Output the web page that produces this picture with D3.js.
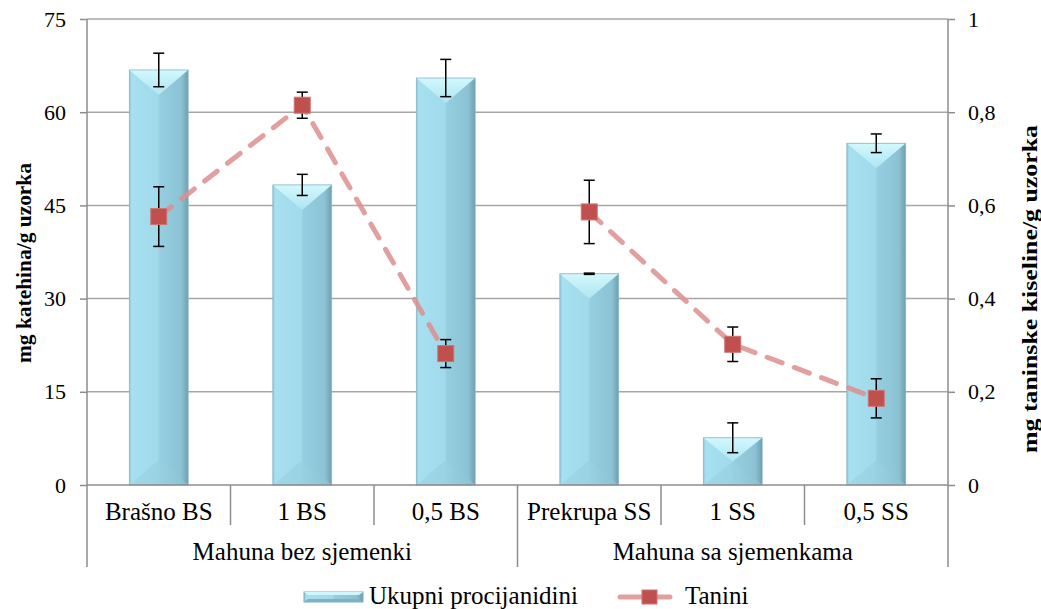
<!DOCTYPE html>
<html>
<head>
<meta charset="utf-8">
<script src="https://cdn.jsdelivr.net/npm/d3@7"></script>
<style>
  html, body { margin: 0; padding: 0; background: #fff; }
  svg { display: block; }
</style>
</head>
<body>
<svg id="chart" width="1041" height="609"></svg>
<script>
// ---- data ----
const categories = ["Brašno BS", "1 BS", "0,5 BS", "Prekrupa SS", "1 SS", "0,5 SS"];
const groups = ["Mahuna bez sjemenki", "Mahuna sa sjemenkama"];
const groupOf = [0, 0, 0, 1, 1, 1];
const procijanidini = [66.8, 48.3, 65.5, 34.0, 7.6, 55.0];
const procijanidiniErr = [2.7, 1.7, 3.0, 0.1, 2.4, 1.5];
const tanini = [0.576, 0.815, 0.282, 0.586, 0.302, 0.186];
const taniniErr = [0.064, 0.028, 0.030, 0.068, 0.037, 0.042];
const leftTicks = [0, 15, 30, 45, 60, 75];
const rightTicks = [0, 0.2, 0.4, 0.6, 0.8, 1];
const rightTickLabels = ["0", "0,2", "0,4", "0,6", "0,8", "1"];
const seriesNames = ["Ukupni procijanidini", "Tanini"];
const leftTitle = "mg katehina/g uzorka";
const rightTitle = "mg taninske kiseline/g uzorka";

// ---- layout ----
const FONT = "'Liberation Serif', 'Times New Roman', 'DejaVu Serif', serif";
const L = 87, R = 948, T = 19, B = 485;
const svg = d3.select("#chart");
const defs = svg.append("defs");

const x = d3.scaleBand().domain(categories).range([L, R]).paddingInner(0.59).paddingOuter(0.295);
const yL = d3.scaleLinear().domain([0, 75]).range([B, T]);
const yR = d3.scaleLinear().domain([0, 1]).range([B, T]);

function txt(sel, size, weight) {
  return sel.style("font-family", FONT).style("font-size", size + "px")
    .style("font-weight", weight || "normal").style("fill", "#000");
}

// gradients
const gBody = defs.append("linearGradient").attr("id", "gBody").attr("x1", 0).attr("x2", 1).attr("y1", 0).attr("y2", 0);
[["0%", "#8fc6d6"], ["4%", "#a7e0f0"], ["48%", "#a0daeb"], ["52%", "#94cee0"], ["88%", "#8cc3d4"], ["100%", "#6f9fae"]]
  .forEach(s => gBody.append("stop").attr("offset", s[0]).attr("stop-color", s[1]));
const gTop = defs.append("linearGradient").attr("id", "gTop").attr("x1", 0).attr("x2", 0).attr("y1", 0).attr("y2", 1);
[["0%", "#d2f8fd"], ["100%", "#aee5f2"]].forEach(s => gTop.append("stop").attr("offset", s[0]).attr("stop-color", s[1]));
const gBot = defs.append("linearGradient").attr("id", "gBot").attr("x1", 0).attr("x2", 1).attr("y1", 0).attr("y2", 0);
[["0%", "#9dd6e6"], ["50%", "#98d1e2"], ["100%", "#8cc2d2"]].forEach(s => gBot.append("stop").attr("offset", s[0]).attr("stop-color", s[1]));

// gridlines
svg.append("g").selectAll("line").data(leftTicks.filter(d => d > 0)).join("line")
  .attr("x1", L).attr("x2", R).attr("y1", d => yL(d)).attr("y2", d => yL(d))
  .attr("stroke", "#a6a6a6").attr("stroke-width", 1.5);

// bars
function bevelBar(g, x0, w, top, bottom) {
  const h = bottom - top;
  const d = Math.min(w / 2 * 0.85, h / 2);
  const cx = x0 + w / 2;
  g.append("rect").attr("x", x0).attr("y", top).attr("width", w).attr("height", h).attr("fill", "url(#gBody)");
  g.append("polygon").attr("points", `${x0},${bottom} ${x0 + w},${bottom} ${cx},${bottom - d}`)
    .attr("fill", "url(#gBot)").attr("opacity", 0.8);
  g.append("polygon").attr("points", `${x0},${top} ${x0 + w},${top} ${cx},${top + d}`).attr("fill", "url(#gTop)");
  g.append("rect").attr("x", x0).attr("y", top).attr("width", w).attr("height", h)
    .attr("fill", "none").attr("stroke", "#86b7c6").attr("stroke-width", 0.8);
}
const barsG = svg.append("g");
categories.forEach((c, i) => {
  bevelBar(barsG, x(c), x.bandwidth(), yL(procijanidini[i]), yL(0));
});

// bar error bars
const errG = svg.append("g").attr("stroke", "#000").attr("stroke-width", 1.5);
function errBar(g, cx, yTop, yBot) {
  g.append("line").attr("x1", cx).attr("x2", cx).attr("y1", yTop).attr("y2", yBot);
  g.append("line").attr("x1", cx - 5.5).attr("x2", cx + 5.5).attr("y1", yTop).attr("y2", yTop);
  g.append("line").attr("x1", cx - 5.5).attr("x2", cx + 5.5).attr("y1", yBot).attr("y2", yBot);
}
categories.forEach((c, i) => {
  const cx = x(c) + x.bandwidth() / 2;
  errBar(errG, cx, yL(procijanidini[i] + procijanidiniErr[i]), yL(procijanidini[i] - procijanidiniErr[i]));
});

// axes
const axisColor = "#8c8c8c";
const axL = svg.append("g").attr("transform", `translate(${L},0)`)
  .call(d3.axisLeft(yL).tickValues(leftTicks).tickSize(7).tickPadding(14).tickFormat(d3.format("d")));
axL.attr("font-family", null).attr("font-size", null);
axL.select(".domain").remove();
axL.selectAll(".tick line").attr("stroke", axisColor).attr("stroke-width", 1.5);
txt(axL.selectAll(".tick text"), 22);
const axR = svg.append("g").attr("transform", `translate(${R},0)`)
  .call(d3.axisRight(yR).tickValues(rightTicks).tickSize(7).tickPadding(13).tickFormat((d, i) => rightTickLabels[i]));
axR.attr("font-family", null).attr("font-size", null);
axR.select(".domain").remove();
axR.selectAll(".tick line").attr("stroke", axisColor).attr("stroke-width", 1.5);
txt(axR.selectAll(".tick text"), 22);

const lineG = svg.append("g").attr("stroke", axisColor).attr("stroke-width", 1.5);
lineG.append("line").attr("x1", L).attr("x2", L).attr("y1", T).attr("y2", 567);
lineG.append("line").attr("x1", R).attr("x2", R).attr("y1", T).attr("y2", 567);
lineG.append("line").attr("x1", L).attr("x2", R).attr("y1", B).attr("y2", B);
const step = x.step();
categories.forEach((c, i) => {
  if (i === 0) return;
  const xb = x(c) - (step - x.bandwidth()) / 2;
  const isGroupEdge = groupOf[i] !== groupOf[i - 1];
  lineG.append("line").attr("x1", xb).attr("x2", xb).attr("y1", B).attr("y2", isGroupEdge ? 567 : 525);
});

// category labels
txt(svg.append("g").selectAll("text").data(categories).join("text")
  .attr("x", d => x(d) + x.bandwidth() / 2).attr("y", 520)
  .attr("text-anchor", "middle").text(d => d), 25);
// group labels
groups.forEach((gname, gi) => {
  const idx = categories.filter((c, i) => groupOf[i] === gi);
  const x0 = x(idx[0]) + x.bandwidth() / 2, x1 = x(idx[idx.length - 1]) + x.bandwidth() / 2;
  txt(svg.append("text").attr("x", (x0 + x1) / 2).attr("y", 560).attr("text-anchor", "middle").text(gname), 25);
});

// Tanini line (one segment per group; no link between groups)
const pts = categories.map((c, i) => [x(c) + x.bandwidth() / 2, yR(tanini[i])]);
groups.forEach((gname, gi) => {
  const gp = pts.filter((p, i) => groupOf[i] === gi);
  svg.append("path").attr("d", d3.line()(gp)).attr("fill", "none")
    .attr("stroke", "#dc8f8e").attr("stroke-opacity", 0.85).attr("stroke-width", 5)
    .attr("stroke-dasharray", "16 13").attr("stroke-linecap", "round");
});
const tErrG = svg.append("g").attr("stroke", "#000").attr("stroke-width", 1.5);
categories.forEach((c, i) => {
  const cx = x(c) + x.bandwidth() / 2;
  errBar(tErrG, cx, yR(tanini[i] + taniniErr[i]), yR(tanini[i] - taniniErr[i]));
});
svg.append("g").selectAll("rect").data(pts).join("rect")
  .attr("x", d => d[0] - 8).attr("y", d => d[1] - 8).attr("width", 16).attr("height", 16)
  .attr("fill", "#c0504d").attr("stroke", "#d07370").attr("stroke-width", 1);

// axis titles
txt(svg.append("text").attr("transform", `translate(31,263) rotate(-90)`).attr("text-anchor", "middle")
  .attr("textLength", 200).attr("lengthAdjust", "spacingAndGlyphs").text(leftTitle), 21, "bold");
txt(svg.append("text").attr("transform", `translate(1037,289) rotate(-90)`).attr("text-anchor", "middle")
  .attr("textLength", 328).attr("lengthAdjust", "spacingAndGlyphs").text(rightTitle), 22, "bold");

// legend
const lg = svg.append("g");
function bevelLegend(g, x0, y0, w, h) {
  g.append("rect").attr("x", x0).attr("y", y0).attr("width", w).attr("height", h).attr("fill", "url(#gBody)")
    .attr("stroke", "#7aaebe").attr("stroke-width", 1);
  g.append("polygon").attr("points", `${x0},${y0} ${x0 + w},${y0} ${x0 + w - 4},${y0 + 3} ${x0 + 4},${y0 + 3}`).attr("fill", "#d0f6fc");
  g.append("polygon").attr("points", `${x0},${y0 + h} ${x0 + w},${y0 + h} ${x0 + w - 4},${y0 + h - 3} ${x0 + 4},${y0 + h - 3}`).attr("fill", "#7fb1c0");
}
bevelLegend(lg, 304, 592, 59, 10);
txt(lg.append("text").attr("x", 369).attr("y", 604).text(seriesNames[0]), 25);
lg.append("line").attr("x1", 620).attr("x2", 670).attr("y1", 597).attr("y2", 597)
  .attr("stroke", "#dc8f8e").attr("stroke-opacity", 0.85).attr("stroke-width", 5).attr("stroke-linecap", "round");
lg.append("rect").attr("x", 642).attr("y", 590).attr("width", 15).attr("height", 14)
  .attr("fill", "#c0504d").attr("stroke", "#d07370").attr("stroke-width", 1);
txt(lg.append("text").attr("x", 685).attr("y", 604).text(seriesNames[1]), 25);
</script>
</body>
</html>
